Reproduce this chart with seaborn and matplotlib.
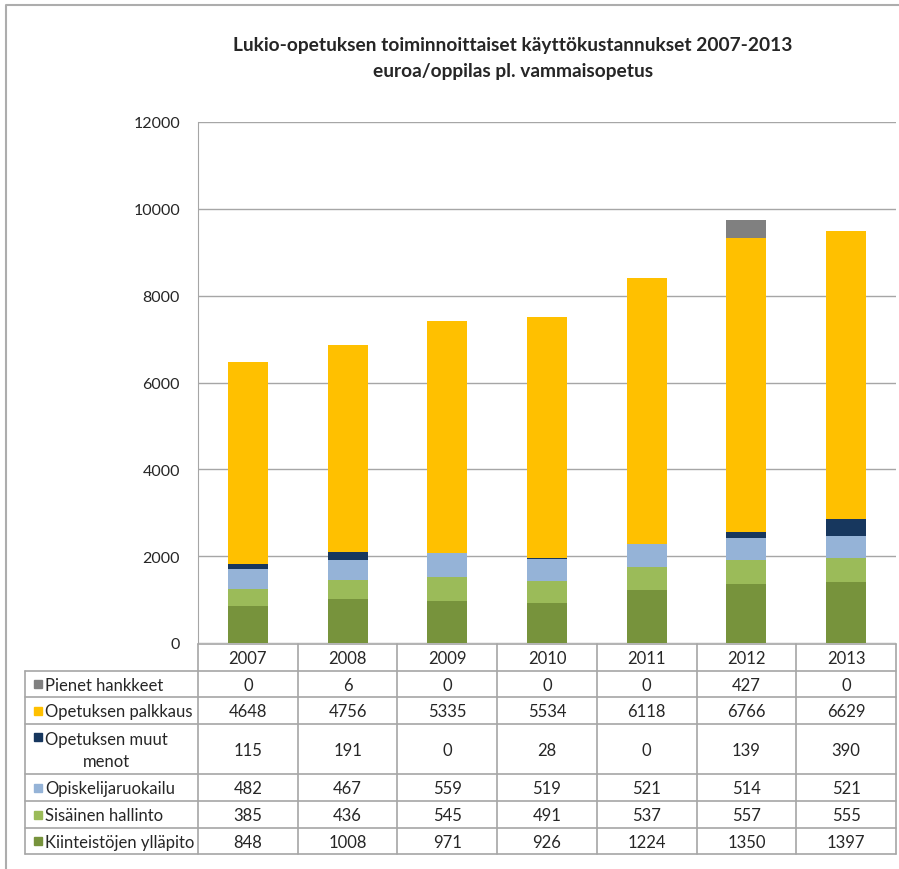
import numpy as np
import matplotlib
matplotlib.use("Agg")
import matplotlib.pyplot as plt
import seaborn as sns

# Data
years = ["2007", "2008", "2009", "2010", "2011", "2012", "2013"]
series_names = [
    "Kiinteistöjen ylläpito",
    "Sisäinen hallinto",
    "Opiskelijaruokailu",
    "Opetuksen muut\nmenot",
    "Opetuksen palkkaus",
    "Pienet hankkeet",
]
kiinteistot = [848, 1008, 971, 926, 1224, 1350, 1397]
sisainen = [385, 436, 545, 491, 537, 557, 555]
ruokailu = [482, 467, 559, 519, 521, 514, 521]
muut_menot = [115, 191, 0, 28, 0, 139, 390]
palkkaus = [4648, 4756, 5335, 5534, 6118, 6766, 6629]
hankkeet = [0, 6, 0, 0, 0, 427, 0]
colors = ["#77933C", "#9BBB59", "#95B3D7", "#17375E", "#FFC000", "#808080"]
yticks = [0, 2000, 4000, 6000, 8000, 10000, 12000]

series = [kiinteistot, sisainen, ruokailu, muut_menot, palkkaus, hankkeet]

sns.set_style("white")
plt.rcParams["font.family"] = ["Lato", "DejaVu Sans"]

W, H = 899, 870
fig = plt.figure(figsize=(W / 100, H / 100), dpi=100)


def px_axes(x0, y0, x1, y1):
    return fig.add_axes([x0 / W, 1 - y1 / H, (x1 - x0) / W, (y1 - y0) / H])


# outer frame
frame = fig.add_axes([0, 0, 1, 1], zorder=-5)
frame.set_xlim(0, W)
frame.set_ylim(H, 0)
frame.axis("off")
frame.plot([6, 6, W], [H, 6, 6], color="#ADADAD", lw=1.5)

# chart: stacked bars drawn as cumulative totals, top layer first
ax = px_axes(198, 123, 896, 644)
cum = np.cumsum(np.array(series), axis=0)
for i in range(len(series) - 1, -1, -1):
    sns.barplot(x=years, y=cum[i], color=colors[i], width=0.4,
                saturation=1, linewidth=0, ax=ax, zorder=3)
ax.set_ylim(0, 12000)
ax.set_xlim(-0.5, len(years) - 0.5)
ax.set_yticks(yticks)
ax.set_yticklabels([str(t) for t in yticks], fontsize=11.5)
ax.set_xticks([])
ax.set_xlabel("")
ax.set_ylabel("")
ax.grid(axis="y", color="#A6A6A6", lw=1, zorder=0)
for s in ["top", "right", "bottom"]:
    ax.spines[s].set_visible(False)
ax.spines["left"].set_color("#A6A6A6")
ax.tick_params(axis="y", direction="out", length=6, color="#A6A6A6", pad=7)

fig.text(513 / W, 1 - 45 / H, "Lukio-opetuksen toiminnoittaiset käyttökustannukset 2007-2013",
         ha="center", va="center", fontsize=13.8, fontweight="bold")
fig.text(513 / W, 1 - 72 / H, "euroa/oppilas pl. vammaisopetus",
         ha="center", va="center", fontsize=13.8, fontweight="bold")

# data table
tab = px_axes(0, 640, W, H)
tab.set_xlim(0, W)
tab.set_ylim(H, 640)
tab.axis("off")
line_c = "#A6A6A6"
fs = 12
col_x = np.linspace(198, 896, len(years) + 1)
row_y = [645, 672, 698, 725, 775, 802, 829, 855]

tab.plot([198, 896], [645, 645], color=line_c, lw=1.2)
for y in row_y[1:]:
    tab.plot([25, 896], [y, y], color=line_c, lw=1.2)
tab.plot([25, 25], [row_y[1], row_y[-1]], color=line_c, lw=1.2)
for x in col_x:
    tab.plot([x, x], [645, 855], color=line_c, lw=1.2)

centers = (col_x[:-1] + col_x[1:]) / 2
for cx, yr in zip(centers, years):
    tab.text(cx, (row_y[0] + row_y[1]) / 2 + 1, yr, ha="center", va="center", fontsize=fs)

# table rows top to bottom: reverse of stack order
for r, i in enumerate(range(len(series) - 1, -1, -1)):
    y0, y1 = row_y[r + 1], row_y[r + 2]
    ym = (y0 + y1) / 2
    name = series_names[i]
    if "\n" in name:
        sq_y = y0 + 13
        tab.text(45, ym + 1, name, ha="left", va="center", fontsize=fs,
                 multialignment="center", linespacing=1.45)
    else:
        sq_y = ym
        tab.text(45, ym + 1, name, ha="left", va="center", fontsize=fs)
    tab.add_patch(plt.Rectangle((34, sq_y - 4), 8, 8, color=colors[i]))
    for cx, v in zip(centers, series[i]):
        tab.text(cx, ym + 1, str(v), ha="center", va="center", fontsize=fs)

fig.savefig("out.png", dpi=100)
